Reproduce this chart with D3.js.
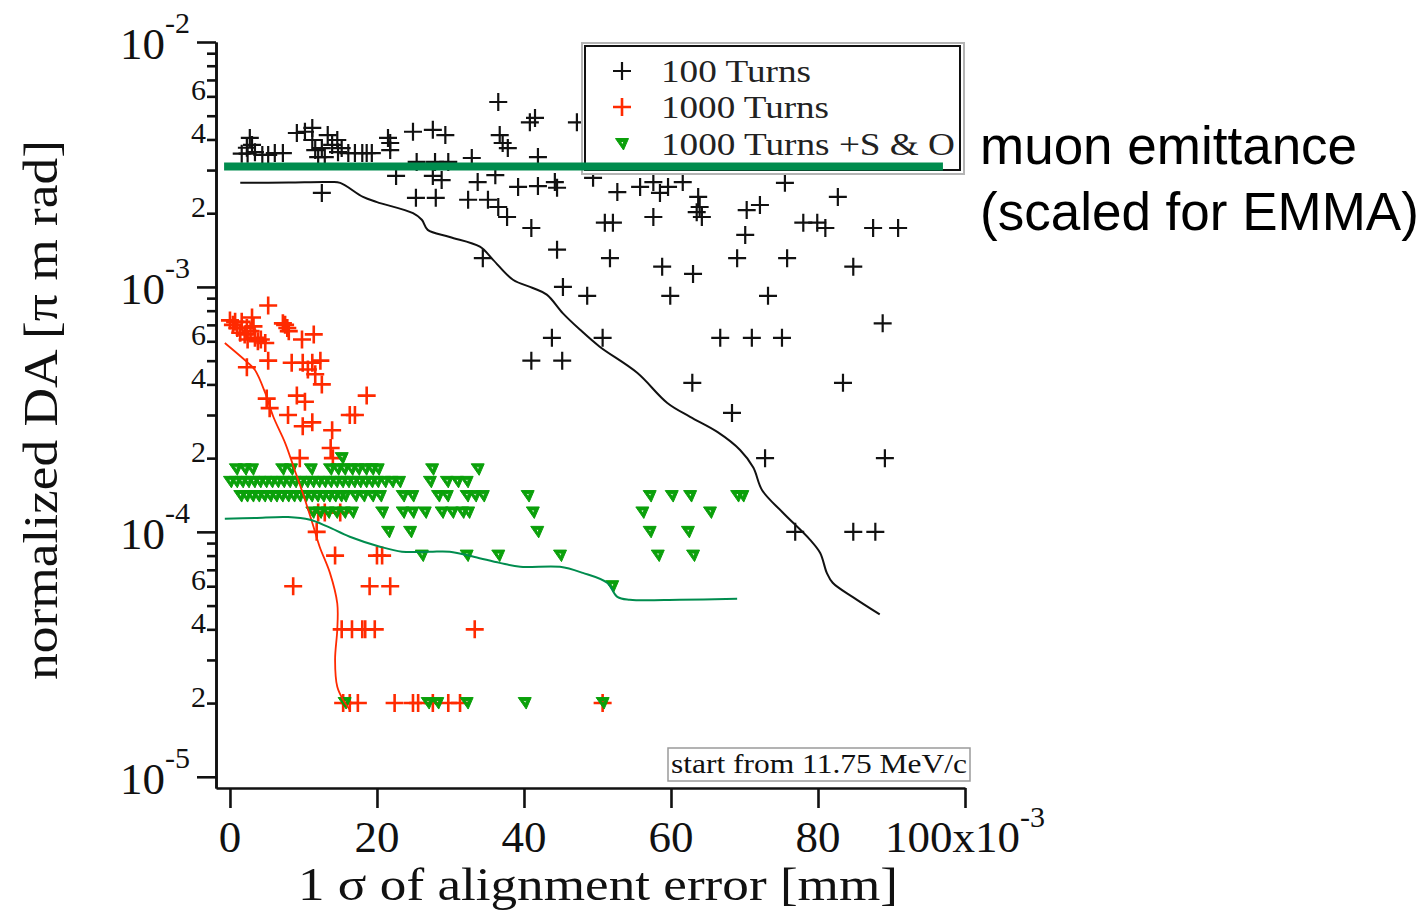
<!DOCTYPE html>
<html>
<head>
<meta charset="utf-8">
<script src="https://cdn.jsdelivr.net/npm/d3@7"></script>
<style>
  html, body { margin: 0; padding: 0; background: #fff; }
  svg { display: block; }
</style>
</head>
<body>
<svg id="chart" width="1426" height="914"></svg>
<script>
// ---- Data: x = 1 sigma alignment error [10^-3 mm], y = normalized DA [pi m rad] ----

// 100 turns tracking
const turns100 = [
  [1.6,3.5e-3],[2.3,3.7e-3],[2.4,3.5e-3],[2.7,4.06e-3],[3.0,3.8e-3],[3.4,3.55e-3],[4.4,3.46e-3],
  [5.2,3.46e-3],[6.1,3.52e-3],[7.2,3.52e-3],[9.1,4.25e-3],[10.2,4.3e-3],[11.2,4.46e-3],[11.2,3.98e-3],
  [11.6,3.62e-3],[12.0,3.39e-3],[12.5,3.69e-3],[12.9,3.39e-3],[13.3,4.17e-3],[13.9,3.8e-3],[14.6,3.98e-3],
  [14.7,3.55e-3],[15.2,3.69e-3],[16.1,3.52e-3],[17.0,3.52e-3],[18.0,3.52e-3],[18.6,3.52e-3],[19.3,3.52e-3],
  [12.5,2.42e-3],[21.5,4.06e-3],[21.8,3.62e-3],[21.8,3.87e-3],[22.6,2.84e-3],[24.9,4.3e-3],[27.6,4.38e-3],
  [29.3,4.17e-3],[25.4,3.24e-3],[27.9,3.24e-3],[29.7,3.24e-3],[27.6,2.84e-3],[28.8,2.73e-3],[25.3,2.31e-3],
  [28.0,2.31e-3],[32.9,3.36e-3],[33.7,2.68e-3],[32.4,2.27e-3],[35.1,2.27e-3],[36.1,2.86e-3],[36.5,5.69e-3],
  [36.7,4.17e-3],[37.1,3.87e-3],[37.8,3.69e-3],[40.8,4.7e-3],[41.5,4.9e-3],[47.2,4.7e-3],[41.9,3.39e-3],
  [39.2,2.56e-3],[41.9,2.58e-3],[44.2,2.68e-3],[44.5,2.54e-3],[36.5,2.12e-3],[37.7,1.93e-3],[41.0,1.74e-3],
  [34.4,1.31e-3],[44.5,1.42e-3],[45.3,1.0e-3],[48.6,9.2e-4],[49.4,2.79e-3],[52.7,2.44e-3],[55.8,2.56e-3],
  [57.6,2.68e-3],[58.5,2.42e-3],[59.6,2.56e-3],[61.6,2.68e-3],[63.7,2.33e-3],[63.9,2.12e-3],[63.5,2.02e-3],
  [64.2,1.93e-3],[75.5,2.66e-3],[82.7,2.33e-3],[70.3,2.06e-3],[72.1,2.16e-3],[51.0,1.83e-3],[52.1,1.83e-3],
  [57.6,1.93e-3],[78.0,1.83e-3],[79.9,1.83e-3],[81.0,1.74e-3],[70.1,1.63e-3],[87.5,1.74e-3],[90.9,1.74e-3],
  [51.7,1.31e-3],[58.8,1.21e-3],[63.0,1.13e-3],[69.0,1.31e-3],[75.8,1.31e-3],[84.8,1.21e-3],[59.9,9.2e-4],
  [73.2,9.2e-4],[88.8,7.1e-4],[41.0,5.0e-4],[45.2,5.0e-4],[43.8,6.2e-4],[50.7,6.2e-4],[66.7,6.2e-4],
  [71.0,6.2e-4],[75.1,6.2e-4],[62.9,4.06e-4],[83.4,4.06e-4],[68.3,3.06e-4],[72.8,2.0e-4],[89.1,2.0e-4],
  [76.9,1.0e-4],[84.8,1.0e-4],[87.8,1.0e-4],[69.8,3.15e-3],[74.1,3.15e-3],[77.9,3.15e-3]
];

// 1000 turns tracking
const turns1000 = [
  [0.0,7.3e-4],[0.4,7.0e-4],[0.7,7.2e-4],[1.0,6.8e-4],[1.4,6.5e-4],[1.6,7.2e-4],[2.0,6.4e-4],[2.3,6.8e-4],
  [2.4,6.1e-4],[2.8,6.6e-4],[3.0,7.5e-4],[3.2,6.9e-4],[3.4,6.2e-4],[3.8,6.0e-4],[4.2,6.1e-4],[4.8,5.9e-4],
  [5.2,8.4e-4],[7.2,7.1e-4],[7.5,7.0e-4],[7.8,6.8e-4],[8.0,6.6e-4],[9.8,6.1e-4],[11.4,6.4e-4],
  [5.2,5.0e-4],[8.4,4.9e-4],[9.9,4.9e-4],[11.2,4.9e-4],[12.3,5.0e-4],[10.6,4.6e-4],[11.6,4.4e-4],
  [2.3,4.7e-4],[12.5,4.0e-4],[5.0,3.5e-4],[5.4,3.2e-4],[9.1,3.6e-4],[10.2,3.4e-4],[18.6,3.6e-4],
  [7.9,3.0e-4],[16.3,3.0e-4],[17.0,3.0e-4],[9.9,2.7e-4],[11.2,2.8e-4],[13.9,2.6e-4],[13.7,2.2e-4],
  [9.5,2.0e-4],[14.0,2.0e-4],[12.0,1.2e-4],[12.9,1.2e-4],[15.0,1.2e-4],[11.8,1.0e-4],
  [14.3,8e-5],[20.0,8e-5],[20.7,8e-5],[8.6,6e-5],[19.0,6e-5],[21.8,6e-5],
  [15.2,4e-5],[16.6,4e-5],[18.0,4e-5],[18.4,4e-5],[19.7,4e-5],[33.3,4e-5],
  [15.4,2e-5],[16.3,2e-5],[17.4,2e-5],[22.4,2e-5],[24.9,2e-5],[25.6,2e-5],[27.6,2e-5],[29.7,2e-5],
  [31.3,2e-5],[50.7,2e-5]
];

// 1000 turns with sextupole and octupole errors
const turns1000SO = [
  [15.2,2.0e-4],
  [0.8,1.8e-4],[2.0,1.8e-4],[3.0,1.8e-4],[7.1,1.8e-4],[8.3,1.8e-4],[11.0,1.8e-4],[13.6,1.8e-4],[14.6,1.8e-4],
  [15.5,1.8e-4],[16.5,1.8e-4],[17.4,1.8e-4],[18.4,1.8e-4],[19.3,1.8e-4],[20.1,1.8e-4],[27.5,1.8e-4],[33.7,1.8e-4],
  [0.0,1.6e-4],[0.8,1.6e-4],[1.6,1.6e-4],[2.4,1.6e-4],[3.2,1.6e-4],[4.0,1.6e-4],[4.8,1.6e-4],[5.6,1.6e-4],
  [6.4,1.6e-4],[7.2,1.6e-4],[8.0,1.6e-4],[8.8,1.6e-4],[9.6,1.6e-4],[10.4,1.6e-4],[11.2,1.6e-4],[12.0,1.6e-4],
  [12.8,1.6e-4],[13.6,1.6e-4],[14.4,1.6e-4],[15.2,1.6e-4],[16.0,1.6e-4],[16.8,1.6e-4],[17.6,1.6e-4],[18.4,1.6e-4],
  [19.2,1.6e-4],[20.0,1.6e-4],[21.0,1.6e-4],[22.0,1.6e-4],[23.0,1.6e-4],[27.2,1.6e-4],[29.5,1.6e-4],[30.9,1.6e-4],
  [32.2,1.6e-4],
  [1.4,1.4e-4],[2.2,1.4e-4],[3.0,1.4e-4],[3.8,1.4e-4],[4.6,1.4e-4],[5.4,1.4e-4],[6.2,1.4e-4],[7.0,1.4e-4],
  [7.8,1.4e-4],[8.6,1.4e-4],[9.4,1.4e-4],[10.2,1.4e-4],[11.0,1.4e-4],[11.8,1.4e-4],[12.6,1.4e-4],[13.4,1.4e-4],
  [14.2,1.4e-4],[15.0,1.4e-4],[15.6,1.4e-4],[17.0,1.4e-4],[18.1,1.4e-4],[19.3,1.4e-4],[20.4,1.4e-4],[23.5,1.4e-4],
  [24.8,1.4e-4],[28.3,1.4e-4],[29.5,1.4e-4],[32.2,1.4e-4],[33.3,1.4e-4],[34.4,1.4e-4],[40.5,1.4e-4],[57.1,1.4e-4],
  [60.1,1.4e-4],[62.6,1.4e-4],[69.0,1.4e-4],[69.7,1.4e-4],
  [11.2,1.2e-4],[12.2,1.2e-4],[13.3,1.2e-4],[14.4,1.2e-4],[15.5,1.2e-4],[16.6,1.2e-4],[20.7,1.2e-4],[23.5,1.2e-4],
  [24.8,1.2e-4],[26.5,1.2e-4],[28.8,1.2e-4],[30.2,1.2e-4],[31.6,1.2e-4],[32.4,1.2e-4],[41.2,1.2e-4],[56.1,1.2e-4],
  [65.3,1.2e-4],
  [21.5,1.0e-4],[24.5,1.0e-4],[41.8,1.0e-4],[57.1,1.0e-4],[62.3,1.0e-4],
  [26.1,8e-5],[32.2,8e-5],[36.5,8e-5],[44.9,8e-5],[58.2,8e-5],[63.0,8e-5],
  [52.0,6e-5],
  [15.6,2e-5],[26.9,2e-5],[28.2,2e-5],[32.2,2e-5],[40.1,2e-5],[50.7,2e-5]
];

// Smoothed trend curves
const fit100 = [
  [1.4,2.66e-3],[8.0,2.67e-3],[13.6,2.68e-3],[15.0,2.66e-3],[18.1,2.33e-3],[20.0,2.22e-3],[24.9,2.0e-3],
  [26.1,1.88e-3],[26.9,1.71e-3],[29.9,1.6e-3],[34.0,1.46e-3],[35.8,1.29e-3],[38.5,1.07e-3],[41.2,9.9e-4],
  [43.1,9.3e-4],[45.3,7.8e-4],[47.6,6.7e-4],[50.3,5.7e-4],[55.4,4.46e-4],[59.5,3.36e-4],[62.6,2.95e-4],
  [66.3,2.56e-4],[69.4,2.16e-4],[71.2,1.83e-4],[72.4,1.48e-4],[75.2,1.2e-4],[78.9,9.3e-5],[80.3,8.2e-5],
  [81.2,6.8e-5],[82.0,6.2e-5],[84.8,5.4e-5],[88.4,4.6e-5]
];
const fit1000 = [
  [-0.7,5.9e-4],[2.3,4.94e-4],[3.4,4.58e-4],[4.8,3.69e-4],[5.9,2.95e-4],[7.5,2.31e-4],[8.8,1.79e-4],
  [9.9,1.44e-4],[11.2,1.09e-4],[12.2,8.7e-5],[13.6,6.8e-5],[14.6,5.1e-5],[14.6,4.0e-5],[14.3,3.0e-5],
  [14.6,2.33e-5],[15.4,2.06e-5],[16.3,1.88e-5]
];
const fitSO = [
  [-0.7,1.13e-4],[3.4,1.14e-4],[7.9,1.15e-4],[10.9,1.12e-4],[13.3,1.05e-4],[16.3,9.55e-5],[20.4,8.7e-5],
  [23.4,8.3e-5],[27.2,8.3e-5],[29.9,8.3e-5],[33.3,7.9e-5],[36.7,7.47e-5],[39.5,7.2e-5],[44.9,7.2e-5],
  [48.0,6.8e-5],[51.3,6.2e-5],[52.7,5.43e-5],[54.4,5.28e-5],[61.2,5.28e-5],[69.0,5.33e-5]
];

// Muon emittance reference level (scaled for EMMA)
const emittanceLevel = 3.1e-3;
const emittanceSpan = [-0.8, 97];

// Axis ticks and labels
const xTicks = [0, 20, 40, 60, 80, 100];
const xTickText = ['0', '20', '40', '60', '80', '100x10'];
const xTickSup = ['', '', '', '', '', '-3'];
const yMajorTicks = [1e-5, 1e-4, 1e-3, 1e-2];
const yMinorDecades = [1e-5, 1e-4, 1e-3];
const yMinorMultipliers = [2, 3, 4, 5, 6, 7, 8, 9];
const yMinorLabelled = [2, 4, 6];

const legendItems = ['100 Turns', '1000 Turns', '1000 Turns +S & O'];
const legendTextWidths = [150, 168, 294];
const annotationLines = ['muon emittance', '(scaled for EMMA)'];
const noteText = 'start from 11.75 MeV/c';
const xTitle = '1 \u03c3 of alignment error [mm]';
const yTitle = 'normalized DA [\u03c0 m rad]';

// ---- Drawing ----
const serif = '"Liberation Serif", "Times New Roman", serif';
const sans = '"Liberation Sans", Arial, sans-serif';
const ink = '#111';
const colBlack = '#111';
const colRed = '#ff2a00';
const colGreenMark = '#0aa00a';
const colGreenLine = '#008c4e';

const svg = d3.select('#chart');
const x = d3.scaleLinear().domain([-1.9, 100]).range([216, 965]);
const y = d3.scaleLog().domain([9e-6, 1e-2]).range([788, 42]);
const left = x.range()[0];
const bottom = y.range()[0];

const crossPath = 'M-9,0H9M0,-9V9';
// open down-triangle: outer outline with a small hole
const triPath = 'M-6.5,-5.5H6.5L1.5,6Z M-1.5,-2.5L1.8,-2.5L0.6,0.8Z';

function drawTriangles(sel) {
  sel.attr('d', triPath).attr('fill', colGreenMark).attr('fill-rule', 'evenodd')
    .attr('stroke', colGreenMark).attr('stroke-width', 1).attr('stroke-linejoin', 'round');
}

// markers
function drawCrosses(data, color, width) {
  svg.append('g').selectAll('path').data(data).join('path')
    .attr('d', crossPath)
    .attr('transform', d => `translate(${x(d[0])},${y(d[1])})`)
    .attr('fill', 'none').attr('stroke', color).attr('stroke-width', width);
}
drawCrosses(turns100, colBlack, 2.2);
drawCrosses(turns1000, colRed, 2.6);
svg.append('g').selectAll('path').data(turns1000SO).join('path')
  .attr('transform', d => `translate(${x(d[0])},${y(d[1])})`)
  .call(drawTriangles);

// trend curves
const curve = d3.line().x(d => x(d[0])).y(d => y(d[1])).curve(d3.curveCatmullRom.alpha(0.5));
svg.append('path').attr('d', curve(fit100)).attr('fill', 'none').attr('stroke', colBlack).attr('stroke-width', 2);
svg.append('path').attr('d', curve(fit1000)).attr('fill', 'none').attr('stroke', colRed).attr('stroke-width', 1.8);
svg.append('path').attr('d', curve(fitSO)).attr('fill', 'none').attr('stroke', colGreenLine).attr('stroke-width', 2);

// axes
function styleAxis(g) {
  g.selectAll('path.domain').attr('stroke', ink).attr('stroke-width', 2.6);
  g.selectAll('.tick line').attr('stroke', ink).attr('stroke-width', 2.6);
  g.selectAll('.tick text').remove();
}
const yMinorTicks = [];
yMinorDecades.forEach(dec => yMinorMultipliers.forEach(m => yMinorTicks.push(m * dec)));

svg.append('g').attr('transform', `translate(${left},0)`)
  .call(d3.axisLeft(y).tickValues(yMinorTicks).tickSize(9).tickSizeOuter(0).tickFormat(''))
  .call(styleAxis);
svg.append('g').attr('transform', `translate(${left},0)`)
  .call(d3.axisLeft(y).tickValues(yMajorTicks).tickSize(19).tickSizeOuter(0).tickFormat(''))
  .call(styleAxis);
svg.append('g').attr('transform', `translate(0,${bottom})`)
  .call(d3.axisBottom(x).tickValues(xTicks).tickSize(20).tickSizeOuter(0).tickFormat(''))
  .call(styleAxis);

// y major labels: 10 with exponent
yMajorTicks.forEach(v => {
  const t = svg.append('text').attr('x', 190).attr('y', y(v) + 17)
    .attr('text-anchor', 'end').attr('font-family', serif).attr('fill', ink);
  t.append('tspan').attr('font-size', 45).text('10');
  t.append('tspan').attr('font-size', 30).attr('dy', -26).text(String(Math.round(Math.log10(v))));
});
// y minor labels
yMinorDecades.forEach(dec => yMinorLabelled.forEach(m => {
  svg.append('text').attr('x', 206).attr('y', y(m * dec) + 4)
    .attr('text-anchor', 'end').attr('font-family', serif).attr('font-size', 30)
    .attr('fill', ink).text(m);
}));
// x labels
xTicks.forEach((v, i) => {
  const t = svg.append('text').attr('x', x(v)).attr('y', 852)
    .attr('text-anchor', 'middle').attr('font-family', serif).attr('fill', ink);
  t.append('tspan').attr('font-size', 45).text(xTickText[i]);
  if (xTickSup[i]) t.append('tspan').attr('font-size', 30).attr('dy', -25).text(xTickSup[i]);
});

// axis titles
svg.append('text').attr('x', 598).attr('y', 900).attr('text-anchor', 'middle')
  .attr('font-family', serif).attr('font-size', 46).attr('fill', ink)
  .attr('textLength', 600).attr('lengthAdjust', 'spacingAndGlyphs').text(xTitle);
svg.append('text').attr('transform', 'translate(57,410) rotate(-90)').attr('text-anchor', 'middle')
  .attr('font-family', serif).attr('font-size', 48).attr('fill', ink)
  .attr('textLength', 540).attr('lengthAdjust', 'spacingAndGlyphs').text(yTitle);

// note box
svg.append('rect').attr('x', 668).attr('y', 748).attr('width', 302).attr('height', 33)
  .attr('fill', '#fff').attr('stroke', '#9a9a9a').attr('stroke-width', 1.5);
svg.append('text').attr('x', 671).attr('y', 773).attr('font-family', serif).attr('font-size', 27)
  .attr('fill', ink).attr('textLength', 296).attr('lengthAdjust', 'spacingAndGlyphs').text(noteText);

// legend
const lg = svg.append('g');
lg.append('rect').attr('x', 582).attr('y', 43).attr('width', 382).attr('height', 131)
  .attr('fill', '#fff').attr('stroke', '#b4b4b4').attr('stroke-width', 2);
lg.append('rect').attr('x', 585).attr('y', 46).attr('width', 375).attr('height', 124)
  .attr('fill', 'none').attr('stroke', ink).attr('stroke-width', 2);
const legendRowY = [71, 107, 144];
legendItems.forEach((label, i) => {
  const mark = lg.append('path').attr('transform', `translate(622,${legendRowY[i]})`);
  if (i < 2) {
    mark.attr('d', crossPath).attr('fill', 'none')
      .attr('stroke', i === 0 ? colBlack : colRed).attr('stroke-width', i === 0 ? 2.2 : 2.6);
  } else {
    mark.call(drawTriangles);
  }
  lg.append('text').attr('x', 661).attr('y', legendRowY[i] + 11).attr('font-family', serif)
    .attr('font-size', 32).attr('fill', '#222')
    .attr('textLength', legendTextWidths[i]).attr('lengthAdjust', 'spacingAndGlyphs').text(label);
});

// emittance reference line (drawn on top)
svg.append('line')
  .attr('x1', x(emittanceSpan[0])).attr('x2', x(emittanceSpan[1]))
  .attr('y1', y(emittanceLevel)).attr('y2', y(emittanceLevel))
  .attr('stroke', colGreenLine).attr('stroke-width', 8);

// annotation
annotationLines.forEach((line, i) => {
  svg.append('text').attr('x', 980).attr('y', 164 + i * 66).attr('font-family', sans)
    .attr('font-size', 53).attr('fill', '#000').text(line);
});
</script>
</body>
</html>
